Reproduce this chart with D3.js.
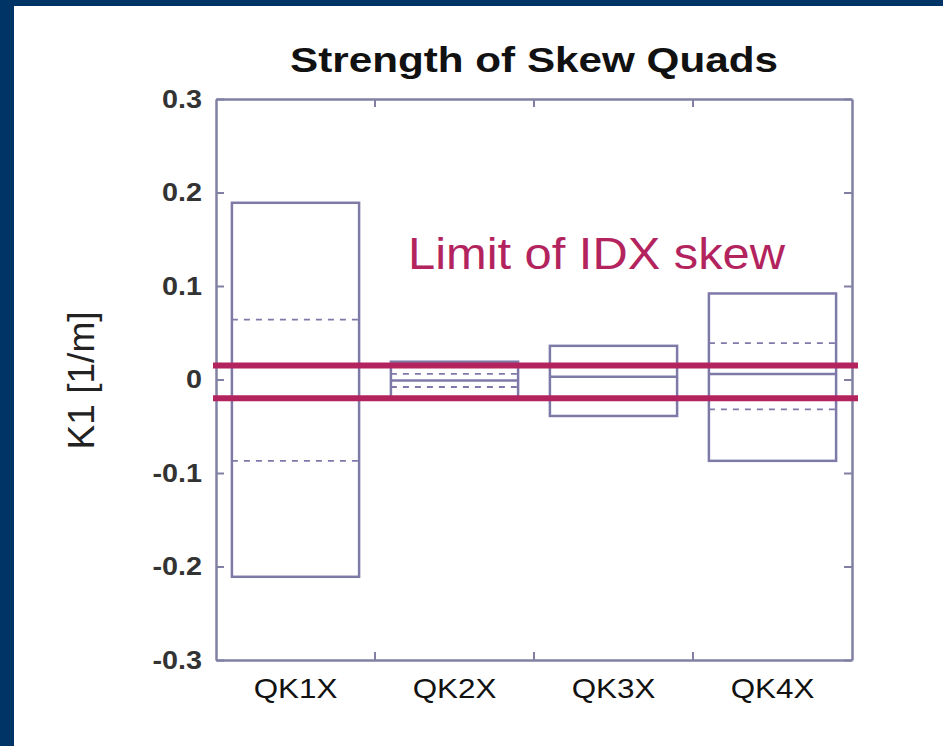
<!DOCTYPE html>
<html>
<head>
<meta charset="utf-8">
<script src="https://cdn.jsdelivr.net/npm/d3@7"></script>
<style>
	body { margin: 0; background: #003366; }
	svg { display: block; }
	text { font-family: "Liberation Sans", Arial, sans-serif; }
</style>
</head>
<body>
<svg id="chart" width="943" height="746"></svg>
<script>
// Skew quad names and their K1 range (1/m)
var quads = ["QK1X", "QK2X", "QK3X", "QK4X"];
var maxK = [0.189, 0.019, 0.036, 0.092];
var minK = [-0.211, -0.020, -0.039, -0.087];
var meanK = [-0.020, -0.001, 0.003, 0.006];
var upperK = [0.064, 0.006, 0.015, 0.039];
var lowerK = [-0.087, -0.008, -0.020, -0.032];
// IDX skew limit
var limits = [0.015, -0.020];
var yTicks = [-0.3, -0.2, -0.1, 0, 0.1, 0.2, 0.3];

var svg = d3.select("#chart");

// white page inside the blue frame
svg.append("rect")
	.attr("x", 14).attr("y", 6)
	.attr("width", 943 - 14).attr("height", 746 - 6)
	.attr("fill", "#ffffff");

// NOTE: "top" is taken by window.top, so use plot* names
var plotLeft = 216, plotRight = 852, plotTop = 99, plotBottom = 660;
var axisColor = "#8080a4";

var x = d3.scaleBand().domain(quads).range([plotLeft, plotRight]).padding(0);
var y = d3.scaleLinear().domain([-0.3, 0.3]).range([plotBottom, plotTop]);

// stretch helper - the source image is a bit wide
function stretch(sel, f) {
	sel.each(function() {
		var w = this.getComputedTextLength();
		d3.select(this).attr("textLength", w * f).attr("lengthAdjust", "spacingAndGlyphs");
	});
}

// Boxes
var boxes = svg.append("g");
quads.forEach(function(q, i) {
	var bx = x(q) + x.bandwidth() * 0.1;
	var bw = x.bandwidth() * 0.8;
	boxes.append("rect")
		.attr("x", bx).attr("y", y(maxK[i]))
		.attr("width", bw).attr("height", y(minK[i]) - y(maxK[i]))
		.attr("fill", "none")
		.attr("stroke", "#7e7aa8")
		.attr("stroke-width", 2.5);
	boxes.append("line")
		.attr("x1", bx).attr("x2", bx + bw)
		.attr("y1", y(meanK[i])).attr("y2", y(meanK[i]))
		.attr("stroke", "#7e7aa8").attr("stroke-width", 2.5);
	[upperK[i], lowerK[i]].forEach(function(v) {
		boxes.append("line")
			.attr("x1", bx).attr("x2", bx + bw)
			.attr("y1", y(v)).attr("y2", y(v))
			.attr("stroke", "#7e7aa8").attr("stroke-width", 1.8)
			.attr("stroke-dasharray", "6,6");
	});
});

// Frame axes
var yl = svg.append("g").attr("transform", "translate(" + plotLeft + ",0)")
	.call(d3.axisLeft(y).tickValues(yTicks).tickSizeInner(-8).tickSizeOuter(0).tickPadding(14)
		.tickFormat(function(d) { return d === 0 ? "0" : d3.format(".1f")(d).replace("\u2212", "-"); }));
var yr = svg.append("g").attr("transform", "translate(" + plotRight + ",0)")
	.call(d3.axisRight(y).tickValues(yTicks).tickSizeInner(-8).tickSizeOuter(0).tickFormat(""));
var xb = svg.append("g").attr("transform", "translate(0," + plotBottom + ")")
	.call(d3.axisBottom(x).tickSize(0).tickPadding(18));
var xt = svg.append("g").attr("transform", "translate(0," + plotTop + ")")
	.call(d3.axisTop(x).tickSize(0).tickFormat(""));

// category boundary ticks
var bounds = quads.slice(1).map(function(q) { return x(q); });
bounds.forEach(function(b) {
	svg.append("line").attr("x1", b).attr("x2", b).attr("y1", plotTop).attr("y2", plotTop + 8)
		.attr("stroke", axisColor).attr("stroke-width", 2);
	svg.append("line").attr("x1", b).attr("x2", b).attr("y1", plotBottom).attr("y2", plotBottom - 8)
		.attr("stroke", axisColor).attr("stroke-width", 2);
});

[yl, yr, xb, xt].forEach(function(g) {
	g.selectAll(".domain").attr("stroke", axisColor).attr("stroke-width", 2.5);
	g.selectAll(".tick line").attr("stroke", axisColor).attr("stroke-width", 2);
});

yl.selectAll("text")
	.attr("font-size", 25).attr("font-weight", "bold").attr("fill", "#333")
	.attr("font-family", "Liberation Sans, Arial, sans-serif");
stretch(yl.selectAll("text"), 1.15);

xb.selectAll("text")
	.attr("font-size", 28).attr("fill", "#111")
	.attr("font-family", "Liberation Sans, Arial, sans-serif");
stretch(xb.selectAll("text"), 1.12);

// Limit lines
svg.selectAll(".limit")
	.data(limits)
	.enter().append("line")
	.attr("class", "limit")
	.attr("x1", plotLeft - 3).attr("x2", plotRight + 6)
	.attr("y1", function(d) { return y(d); })
	.attr("y2", function(d) { return y(d); })
	.attr("stroke", "#b3245e")
	.attr("stroke-width", 6);

svg.append("text")
	.attr("x", 408).attr("y", y(0.118))
	.attr("font-size", 44).attr("fill", "#b3245e")
	.attr("textLength", 377).attr("lengthAdjust", "spacingAndGlyphs")
	.text("Limit of IDX skew");

// Title
svg.append("text")
	.attr("x", (plotLeft + plotRight) / 2).attr("y", 72)
	.attr("text-anchor", "middle")
	.attr("font-size", 35).attr("font-weight", "bold").attr("fill", "#111")
	.attr("textLength", 488).attr("lengthAdjust", "spacingAndGlyphs")
	.text("Strength of Skew Quads");

// Y label
svg.append("text")
	.attr("transform", "translate(94," + y(-0.001) + ") rotate(-90)")
	.attr("text-anchor", "middle")
	.attr("font-size", 36).attr("fill", "#222")
	.attr("textLength", 138).attr("lengthAdjust", "spacingAndGlyphs")
	.text("K1 [1/m]");
</script>
</body>
</html>
